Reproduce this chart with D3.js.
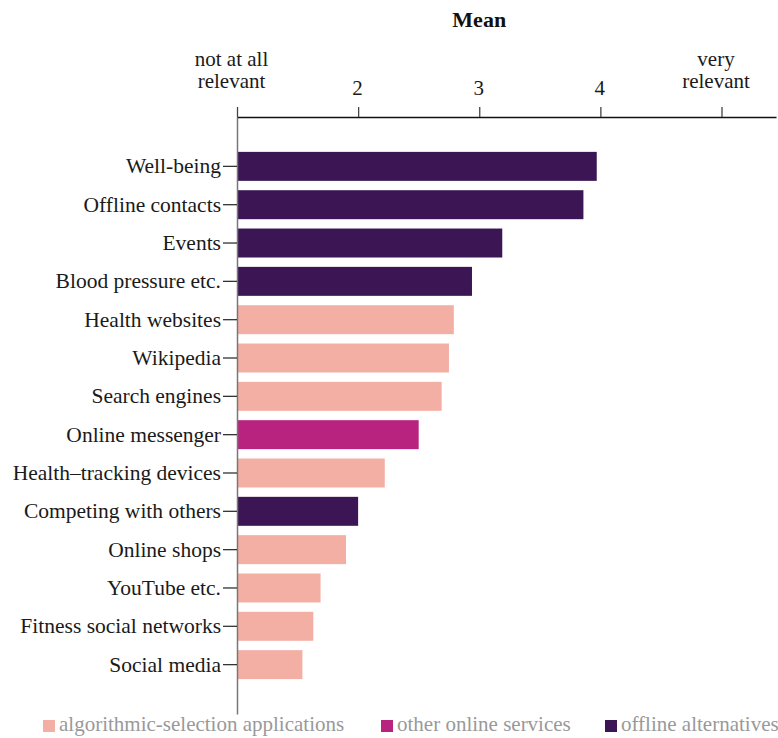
<!DOCTYPE html>
<html><head><meta charset="utf-8">
<script src="https://cdn.jsdelivr.net/npm/d3@7"></script>
<style>
body{margin:0;background:#fff;}
text{font-family:"Liberation Serif","Times New Roman",serif;}
</style></head>
<body><svg id="chart" width="778" height="738"></svg>
<script>
const categories = ["Well-being","Offline contacts","Events","Blood pressure etc.","Health websites","Wikipedia","Search engines","Online messenger","Health\u2013tracking devices","Competing with others","Online shops","YouTube etc.","Fitness social networks","Social media"];
const values = [3.97,3.86,3.19,2.94,2.79,2.75,2.69,2.50,2.22,2.00,1.90,1.69,1.63,1.54];
const groups = ["offline","offline","offline","offline","algo","algo","algo","online","algo","offline","algo","algo","algo","algo"];
const groupKeys = ["algo","online","offline"];
const groupLabels = ["algorithmic-selection applications","other online services","offline alternatives"];
const groupColors = ["#f4afa5","#b92380","#3c1555"];
const tickValues = [1,2,3,4,5];
const tickLabels = [["not at all","relevant"],["2"],["3"],["4"],["very","relevant"]];

const svg = d3.select("#chart");
const x = d3.scaleLinear().domain([1,5.45]).range([237,776]);
const y = d3.scaleBand().domain(categories).range([117,714]).paddingInner(0.244).paddingOuter(0.91);
const color = d3.scaleOrdinal().domain(groupKeys).range(groupColors);

// bars
svg.append("g").selectAll("rect").data(categories).join("rect")
  .attr("x", x(1)).attr("y", d=>y(d))
  .attr("width", (d,i)=>x(values[i])-x(1))
  .attr("height", y.bandwidth())
  .attr("fill", (d,i)=>color(groups[i]));

// y axis
const yAxis = svg.append("g").attr("transform",`translate(${x(1)},0)`)
  .call(d3.axisLeft(y).tickSize(14).tickPadding(2).tickSizeOuter(0));
yAxis.select(".domain").attr("stroke","#777").attr("stroke-width",1.5);
yAxis.selectAll(".tick line").attr("stroke","#333").attr("stroke-width",1.3);
yAxis.selectAll(".tick text").attr("fill","#1a1a1a").style("font-size","21.5px").attr("dy","0.32em");

// x axis
const xAxis = svg.append("g").attr("transform","translate(0,117)")
  .call(d3.axisTop(x).tickValues(tickValues).tickSize(10).tickSizeOuter(0).tickFormat(""));
xAxis.select(".domain").attr("stroke","#111").attr("stroke-width",1.3);
xAxis.selectAll(".tick line").attr("stroke","#444").attr("stroke-width",1.3);
xAxis.selectAll(".tick").each(function(d,i){
  const lines = tickLabels[i];
  const g = d3.select(this);
  const multi = lines.length>1;
  const t = g.append("text").attr("fill","#1a1a1a").attr("text-anchor","middle")
    .style("font-size","21px").attr("x", multi?-6:-1);
  lines.forEach((l,j)=>{
    t.append("tspan").attr("x", multi?-6:-1)
     .attr("y", multi ? -51 + j*22 : -22).text(l);
  });
});

// title
svg.append("text").attr("x", x(3)).attr("y",27).attr("text-anchor","middle")
  .style("font-size","22px").style("font-weight","bold").attr("fill","#111").text("Mean");

// legend
const legX = [43,381,605];
const leg = svg.append("g");
groupKeys.forEach((k,i)=>{
  leg.append("rect").attr("x",legX[i]).attr("y",720).attr("width",12).attr("height",12).attr("fill",color(k));
  leg.append("text").attr("x",legX[i]+16).attr("y",731).attr("fill","#999")
    .style("font-size","21px").text(groupLabels[i]);
});
</script></body></html>
